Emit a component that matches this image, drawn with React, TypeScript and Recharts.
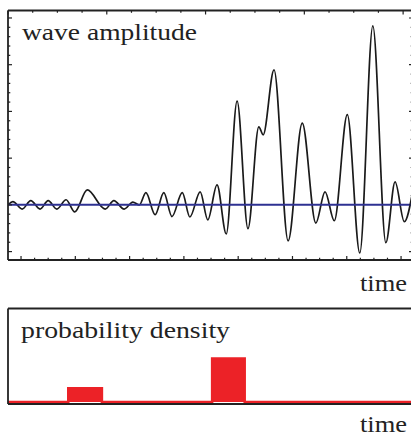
import React from 'react';
import { ComposedChart, Line, Area, XAxis, YAxis, ReferenceLine } from 'recharts';

// ---- data ----
const waveTime = [
  -2.4, -1.5, 0.2, 1.8, 3.5, 5.0, 6.6, 8.3, 9.9, 12.2, 15.5, 17.1, 19.0, 20.6, 21.8,
  23.0, 24.7, 26.3, 27.8, 29.7, 31.1, 33.0, 34.4, 36.1, 37.8, 39.8, 41.8, 43.8, 44.6,
  46.6, 49.2, 51.8, 54.3, 56.0, 57.7, 60.1, 62.4, 64.8, 67.2, 68.9, 70.6, 72.2,
];
const waveAmp = [
  0.0, 0.07, -0.09, 0.09, -0.09, 0.09, -0.09, 0.11, -0.15, 0.32, -0.09, 0.09, -0.09, 0.06, 0.0,
  0.26, -0.21, 0.26, -0.25, 0.26, -0.26, 0.28, -0.32, 0.43, -0.62, 2.22, -0.51, 1.67, 1.5,
  2.89, -0.77, 1.75, -0.39, 0.28, -0.34, 1.93, -1.03, 3.83, -0.81, 0.49, -0.36, 0.32,
];
const meanLevel = 0;

const densityTime = [-2.4, 8.7, 14.9, 35.2, 41.2, 72.2];
const densityValue = [0, 0.31, 0, 0.98, 0, 0];

const timeMajorTicks = [0, 10, 20, 30, 40, 50, 60, 70];
const timeMinorTicks = [
  2.5, 5, 7.5, 12.5, 15, 17.5, 22.5, 25, 27.5, 32.5, 35, 37.5, 42.5, 45, 47.5,
  52.5, 55, 57.5, 62.5, 65, 67.5,
];
const ampMajorTicks = [-1, 0, 1, 2, 3, 4];
const ampMinorTicks = [
  -0.8, -0.6, -0.4, -0.2, 0.2, 0.4, 0.6, 0.8, 1.2, 1.4, 1.6, 1.8, 2.2, 2.4, 2.6, 2.8,
  3.2, 3.4, 3.6, 3.8,
];

const topTitle = 'wave amplitude';
const bottomTitle = 'probability density';
const axisTitle = 'time';

const TIME_DOMAIN: [number, number] = [-2.4, 72.2];
const AMP_DOMAIN: [number, number] = [-1.18, 4.16];
const DENS_DOMAIN: [number, number] = [-0.045, 2.101];

const INK = '#222222';
const BLUE = '#2e3192';
const RED = '#ec2227';
const FONT = 'Liberation Serif, Tinos, Times New Roman, serif';

const waveData = waveTime.map((t, i) => ({ t, a: waveAmp[i] }));
const densityData = densityTime.map((t, i) => ({ t, p: densityValue[i] }));

const timeAllTicks = [...timeMajorTicks, ...timeMinorTicks].sort((a, b) => a - b);
const ampAllTicks = [...ampMajorTicks, ...ampMinorTicks].sort((a, b) => a - b);

const MAJOR_LEN = 4;
const MINOR_LEN = 2.3;

// Tick marks pointing into the plot; major ticks are longer than minor ones.
function makeTick(side: 'top' | 'bottom' | 'left' | 'right', majors: number[]) {
  return (props: any) => {
    const { x, y, payload } = props;
    const v = payload && payload.value;
    const len = majors.some((m) => Math.abs(m - v) < 1e-9) ? MAJOR_LEN : MINOR_LEN;
    let x2 = x;
    let y2 = y;
    if (side === 'bottom') y2 = y - len;
    if (side === 'top') y2 = y + len;
    if (side === 'left') x2 = x + len;
    if (side === 'right') x2 = x - len;
    return <line x1={x} y1={y} x2={x2} y2={y2} stroke={INK} strokeWidth={1.2} />;
  };
}

const axisLineStyle = { stroke: INK, strokeWidth: 1.8 };

export default function App() {
  return (
    <div
      style={{
        position: 'absolute',
        left: 0,
        top: 0,
        width: 411,
        height: 436,
        overflow: 'hidden',
        background: '#ffffff',
      }}
    >
      <div style={{ position: 'absolute', left: 0, top: 0 }}>
        <ComposedChart
          width={420}
          height={300}
          data={waveData}
          margin={{ top: 10.5, right: 7, bottom: 40, left: 8 }}
        >
          <XAxis xAxisId="b" dataKey="t" type="number" domain={TIME_DOMAIN} allowDataOverflow
            orientation="bottom" mirror ticks={timeAllTicks} interval={0}
            tick={makeTick('bottom', timeMajorTicks)} tickSize={0} tickMargin={0}
            tickLine={false} axisLine={axisLineStyle} />
          <XAxis xAxisId="t" type="number" domain={TIME_DOMAIN} allowDataOverflow
            orientation="top" mirror ticks={timeAllTicks} interval={0}
            tick={makeTick('top', timeMajorTicks)} tickSize={0} tickMargin={0}
            tickLine={false} axisLine={axisLineStyle} />
          <YAxis yAxisId="l" type="number" domain={AMP_DOMAIN} allowDataOverflow
            orientation="left" mirror ticks={ampAllTicks} interval={0}
            tick={makeTick('left', ampMajorTicks)} tickSize={0} tickMargin={0}
            tickLine={false} axisLine={axisLineStyle} />
          <YAxis yAxisId="r" type="number" domain={AMP_DOMAIN} allowDataOverflow
            orientation="right" mirror ticks={ampAllTicks} interval={0}
            tick={makeTick('right', ampMajorTicks)} tickSize={0} tickMargin={0}
            tickLine={false} axisLine={false} />

          <Line
            xAxisId="b"
            yAxisId="l"
            dataKey="a"
            type="monotone"
            stroke="#1a1a1a"
            strokeWidth={1.7}
            dot={false}
            activeDot={false}
            isAnimationActive={false}
          />
          <ReferenceLine xAxisId="b" yAxisId="l" y={meanLevel} stroke={BLUE} strokeWidth={2} />

          <text x={22} y={39.5} fontFamily={FONT} fontSize={23} fill={INK}
            textLength={175} lengthAdjust="spacingAndGlyphs">{topTitle}</text>
          <text x={360} y={291} fontFamily={FONT} fontSize={23} fill={INK}
            textLength={47} lengthAdjust="spacingAndGlyphs">{axisTitle}</text>
        </ComposedChart>
      </div>

      <div style={{ position: 'absolute', left: 0, top: 300 }}>
        <ComposedChart
          width={420}
          height={136}
          data={densityData}
          margin={{ top: 8.5, right: 7, bottom: 32, left: 8 }}
        >
          <XAxis xAxisId="b" dataKey="t" type="number" domain={TIME_DOMAIN} allowDataOverflow
            orientation="bottom" mirror tick={false} tickLine={false} axisLine={axisLineStyle} />
          <XAxis xAxisId="t" type="number" domain={TIME_DOMAIN} allowDataOverflow
            orientation="top" mirror tick={false} tickLine={false} axisLine={axisLineStyle} />
          <YAxis yAxisId="l" type="number" domain={DENS_DOMAIN} allowDataOverflow
            orientation="left" mirror tick={false} tickLine={false} axisLine={axisLineStyle} />
          <Area
            xAxisId="b"
            yAxisId="l"
            dataKey="p"
            type="stepAfter"
            fill={RED}
            fillOpacity={1}
            stroke={RED}
            strokeWidth={2.5}
            dot={false}
            activeDot={false}
            isAnimationActive={false}
          />
          <text x={21} y={38} fontFamily={FONT} fontSize={23} fill={INK}
            textLength={209} lengthAdjust="spacingAndGlyphs">{bottomTitle}</text>
          <text x={360} y={132} fontFamily={FONT} fontSize={23} fill={INK}
            textLength={47} lengthAdjust="spacingAndGlyphs">{axisTitle}</text>
        </ComposedChart>
      </div>
    </div>
  );
}
